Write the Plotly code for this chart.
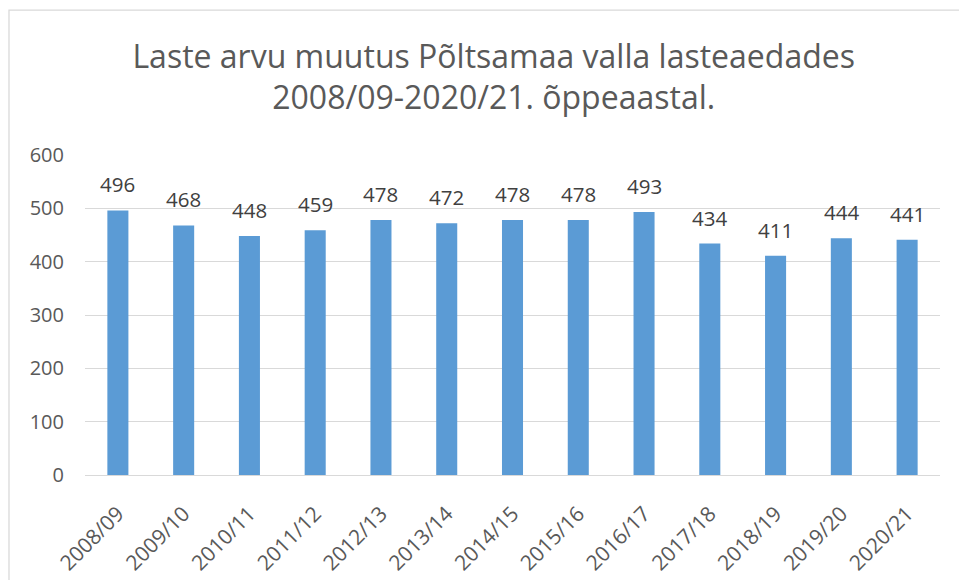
import plotly.graph_objects as go

categories = ["2008/09", "2009/10", "2010/11", "2011/12", "2012/13", "2013/14", "2014/15",
              "2015/16", "2016/17", "2017/18", "2018/19", "2019/20", "2020/21"]
values = [496, 468, 448, 459, 478, 472, 478, 478, 493, 434, 411, 444, 441]
y_ticks = [0, 100, 200, 300, 400, 500, 600]

title_text = "Laste arvu muutus Põltsamaa valla lasteaedades<br>2008/09-2020/21. õppeaastal."

FONT = "Open Sans"
fig = go.Figure()
fig.add_trace(go.Bar(x=categories, y=values, marker=dict(color="#5B9BD5", line=dict(width=0)),
                     hoverinfo="x+y"))

for c, v in zip(categories, values):
    fig.add_annotation(x=c, y=v, text=str(v), showarrow=False, yanchor="bottom", yshift=10,
                       font=dict(family=FONT, size=20.5, color="#404040"))

fig.add_shape(type="rect", xref="paper", yref="paper", x0=-0.0889, x1=1.2, y0=-0.6, y1=1.453,
              line=dict(color="#D9D9D9", width=1.3), fillcolor="rgba(0,0,0,0)", layer="below")

fig.update_layout(
    width=959, height=580,
    margin=dict(l=85, r=19, t=155, b=105, autoexpand=False),
    paper_bgcolor="white", plot_bgcolor="white",
    bargap=0.68,
    showlegend=False,
    title=dict(text=title_text, x=0.478, xref="paper", xanchor="center", y=0.883, yanchor="middle",
               font=dict(family=FONT, size=32, color="#595959")),
    xaxis=dict(tickangle=-45, tickfont=dict(family=FONT, size=21, color="#595959"),
               showgrid=False, showline=True, linecolor="#D9D9D9", linewidth=1.3, ticks="",
               ticklabelstandoff=17, automargin=False),
    yaxis=dict(range=[0, 600], tickvals=y_ticks, tickfont=dict(family=FONT, size=20, color="#595959"),
               showgrid=True, gridcolor="#D9D9D9", gridwidth=1.3, zeroline=False, ticks="",
               ticklabelstandoff=20, showline=False, automargin=False),
)

fig.write_html("out.html", config={"displayModeBar": False},
               post_script="document.body.style.margin='0';")
